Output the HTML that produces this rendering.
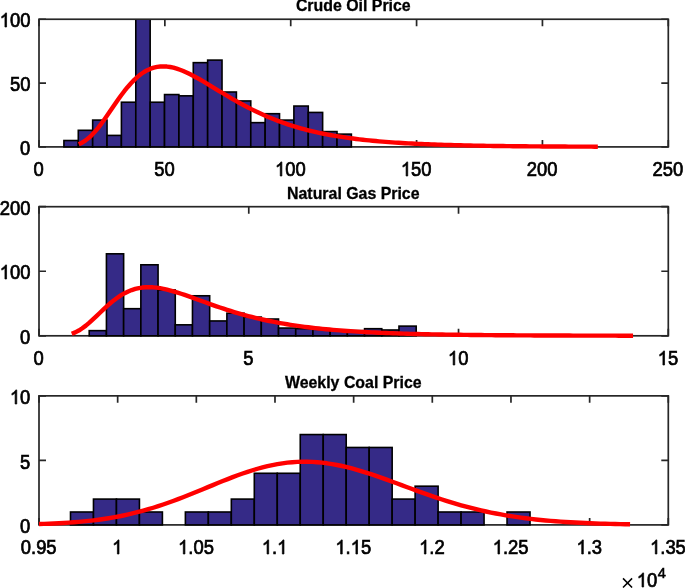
<!DOCTYPE html>
<html><head><meta charset="utf-8"><title>Histograms</title>
<style>
html,body{margin:0;padding:0;background:#fff;}
body{width:685px;height:588px;overflow:hidden;font-family:"Liberation Sans",sans-serif;}
svg{display:block;will-change:transform;}
text{font-family:"Liberation Sans",sans-serif;fill:#000;}
.t{font-size:20px;fill:#000;stroke:#000;stroke-width:0.7px;}
.ti{font-size:15.9px;font-weight:bold;stroke:#000;stroke-width:0.3px;}
</style></head>
<body>
<svg width="685" height="588" viewBox="0 0 685 588">
<rect x="0" y="0" width="685" height="588" fill="#fff"/>
<g>
<clipPath id="c1"><rect x="39" y="20.1" width="629.3" height="130.65"/></clipPath>
<g stroke="#262626" stroke-width="1.7" fill="none" stroke-linecap="butt">
<rect x="39" y="19.25" width="629.3" height="127.65"/>
<path d="M39 146.9v-7 M39 19.25v7 M164.86 146.9v-7 M164.86 19.25v7 M290.72 146.9v-7 M290.72 19.25v7 M416.58 146.9v-7 M416.58 19.25v7 M542.44 146.9v-7 M542.44 19.25v7 M668.3 146.9v-7 M668.3 19.25v7 M39 146.9h7 M668.3 146.9h-7 M39 83.08h7 M668.3 83.08h-7 M39 19.25h7 M668.3 19.25h-7"/>
</g>
<g clip-path="url(#c1)" fill="#352a87" stroke="#000" stroke-width="1.6" stroke-linejoin="miter">
<rect x="63.92" y="140.52" width="14.37" height="6.38"/>
<rect x="78.29" y="130.31" width="14.37" height="16.59"/>
<rect x="92.67" y="120.09" width="14.37" height="26.81"/>
<rect x="107.04" y="135.41" width="14.37" height="11.49"/>
<rect x="121.41" y="102.22" width="14.37" height="44.68"/>
<rect x="135.79" y="6.49" width="14.37" height="140.41"/>
<rect x="150.16" y="102.22" width="14.37" height="44.68"/>
<rect x="164.53" y="94.56" width="14.37" height="52.34"/>
<rect x="178.91" y="95.84" width="14.37" height="51.06"/>
<rect x="193.28" y="62.65" width="14.37" height="84.25"/>
<rect x="207.65" y="60.1" width="14.37" height="86.8"/>
<rect x="222.03" y="92.01" width="14.37" height="54.89"/>
<rect x="236.4" y="100.95" width="14.37" height="45.95"/>
<rect x="250.77" y="122.65" width="14.37" height="24.25"/>
<rect x="265.15" y="113.71" width="14.37" height="33.19"/>
<rect x="279.52" y="120.09" width="14.37" height="26.81"/>
<rect x="293.89" y="106.05" width="14.37" height="40.85"/>
<rect x="308.26" y="112.43" width="14.37" height="34.47"/>
<rect x="322.64" y="131.58" width="14.37" height="15.32"/>
<rect x="337.01" y="134.13" width="14.37" height="12.77"/>
</g>
<polyline points="78.77,144.21 82.04,142.66 85.3,140.62 88.57,138.08 91.83,135.03 95.09,131.51 98.36,127.58 101.62,123.31 104.89,118.77 108.15,114.07 111.42,109.29 114.68,104.51 117.95,99.82 121.21,95.28 124.47,90.97 127.74,86.94 131,83.22 134.27,79.85 137.53,76.85 140.8,74.24 144.06,72.01 147.33,70.17 150.59,68.71 153.85,67.62 157.12,66.88 160.38,66.47 163.65,66.37 166.91,66.57 170.18,67.02 173.44,67.72 176.71,68.64 179.97,69.75 183.23,71.03 186.5,72.46 189.76,74.02 193.03,75.69 196.29,77.44 199.56,79.27 202.82,81.16 206.09,83.1 209.35,85.06 212.61,87.04 215.88,89.03 219.14,91.02 222.41,92.99 225.67,94.96 228.94,96.89 232.2,98.8 235.47,100.67 238.73,102.51 241.99,104.3 245.26,106.05 248.52,107.75 251.79,109.41 255.05,111.01 258.32,112.57 261.58,114.07 264.85,115.53 268.11,116.93 271.37,118.28 274.64,119.58 277.9,120.83 281.17,122.03 284.43,123.19 287.7,124.29 290.96,125.35 294.23,126.37 297.49,127.34 300.75,128.28 304.02,129.17 307.28,130.02 310.55,130.83 313.81,131.61 317.08,132.35 320.34,133.06 323.61,133.73 326.87,134.38 330.13,134.99 333.4,135.57 336.66,136.13 339.93,136.66 343.19,137.16 346.46,137.64 349.72,138.1 352.99,138.54 356.25,138.95 359.51,139.34 362.78,139.72 366.04,140.07 369.31,140.41 372.57,140.73 375.84,141.04 379.1,141.33 382.37,141.61 385.63,141.87 388.89,142.12 392.16,142.35 395.42,142.58 398.69,142.79 401.95,143 405.22,143.19 408.48,143.37 411.75,143.55 415.01,143.71 418.27,143.87 421.54,144.02 424.8,144.16 428.07,144.3 431.33,144.42 434.6,144.54 437.86,144.66 441.13,144.77 444.39,144.87 447.65,144.97 450.92,145.07 454.18,145.16 457.45,145.24 460.71,145.32 463.98,145.4 467.24,145.47 470.51,145.54 473.77,145.61 477.03,145.67 480.3,145.73 483.56,145.78 486.83,145.84 490.09,145.89 493.36,145.94 496.62,145.98 499.89,146.03 503.15,146.07 506.41,146.11 509.68,146.15 512.94,146.18 516.21,146.21 519.47,146.25 522.74,146.28 526,146.31 529.27,146.34 532.53,146.36 535.79,146.39 539.06,146.41 542.32,146.43 545.59,146.46 548.85,146.48 552.12,146.5 555.38,146.51 558.65,146.53 561.91,146.55 565.17,146.57 568.44,146.58 571.7,146.6 574.97,146.61 578.23,146.62 581.5,146.64 584.76,146.65 588.03,146.66 591.29,146.67 594.55,146.68 597.82,146.69" fill="none" stroke="#ff0000" stroke-width="4.4" stroke-linejoin="round" stroke-linecap="butt"/>
<text class="t" transform="translate(33.51 176) scale(0.94 1)" style="font-size:19.6px;stroke-width:0.7px">0</text>
<text class="t" transform="translate(154.27 176) scale(0.94 1)" style="font-size:19.6px;stroke-width:0.7px">50</text>
<path d="M281.86 176L280.25 176L280.25 165.02Q279.67 165.62 278.73 166.21Q277.78 166.8 277.03 167.1L277.03 165.43Q278.38 164.75 279.39 163.79Q280.41 162.82 280.83 161.91L281.86 161.91Z" fill="#000" stroke="#000" stroke-width="0.7" stroke-linejoin="round"/>
<text class="t" transform="translate(285.23 176) scale(0.94 1)" style="font-size:19.6px;stroke-width:0.7px">00</text>
<path d="M407.72 176L406.11 176L406.11 165.02Q405.53 165.62 404.59 166.21Q403.64 166.8 402.89 167.1L402.89 165.43Q404.24 164.75 405.25 163.79Q406.27 162.82 406.69 161.91L407.72 161.91Z" fill="#000" stroke="#000" stroke-width="0.7" stroke-linejoin="round"/>
<text class="t" transform="translate(411.09 176) scale(0.94 1)" style="font-size:19.6px;stroke-width:0.7px">50</text>
<text class="t" transform="translate(526.76 176) scale(0.94 1)" style="font-size:19.6px;stroke-width:0.7px">200</text>
<text class="t" transform="translate(652.62 176) scale(0.94 1)" style="font-size:19.6px;stroke-width:0.7px">250</text>
<text class="t" transform="translate(20.11 155) scale(0.94 1)" style="font-size:19.6px;stroke-width:0.7px">0</text>
<text class="t" transform="translate(9.92 91) scale(0.94 1)" style="font-size:19.6px;stroke-width:0.7px">50</text>
<path d="M6.56 27L4.95 27L4.95 16.02Q4.37 16.62 3.42 17.21Q2.48 17.8 1.73 18.1L1.73 16.43Q3.08 15.75 4.09 14.79Q5.1 13.82 5.52 12.91L6.56 12.91Z" fill="#000" stroke="#000" stroke-width="0.7" stroke-linejoin="round"/>
<text class="t" transform="translate(9.92 27) scale(0.94 1)" style="font-size:19.6px;stroke-width:0.7px">00</text>
<text class="ti" x="353.3" y="11.25" text-anchor="middle">Crude Oil Price</text>
</g>
<g>
<clipPath id="c2"><rect x="39" y="207.55" width="629.3" height="132.1"/></clipPath>
<g stroke="#262626" stroke-width="1.7" fill="none" stroke-linecap="butt">
<rect x="39" y="206.7" width="629.3" height="129.1"/>
<path d="M39 335.8v-7 M39 206.7v7 M248.77 335.8v-7 M248.77 206.7v7 M458.53 335.8v-7 M458.53 206.7v7 M668.3 335.8v-7 M668.3 206.7v7 M39 335.8h7 M668.3 335.8h-7 M39 271.25h7 M668.3 271.25h-7 M39 206.7h7 M668.3 206.7h-7"/>
</g>
<g clip-path="url(#c2)" fill="#352a87" stroke="#000" stroke-width="1.6" stroke-linejoin="miter">
<rect x="89.22" y="330.64" width="17.21" height="5.16"/>
<rect x="106.43" y="253.82" width="17.21" height="81.98"/>
<rect x="123.64" y="308.69" width="17.21" height="27.11"/>
<rect x="140.85" y="264.8" width="17.21" height="71"/>
<rect x="158.06" y="289.97" width="17.21" height="45.83"/>
<rect x="175.26" y="324.83" width="17.21" height="10.97"/>
<rect x="192.47" y="295.78" width="17.21" height="40.02"/>
<rect x="209.68" y="320.95" width="17.21" height="14.85"/>
<rect x="226.89" y="313.21" width="17.21" height="22.59"/>
<rect x="244.1" y="317.08" width="17.21" height="18.72"/>
<rect x="261.31" y="319.02" width="17.21" height="16.78"/>
<rect x="278.52" y="328.05" width="17.21" height="7.75"/>
<rect x="295.73" y="328.7" width="17.21" height="7.1"/>
<rect x="312.94" y="329.35" width="17.21" height="6.45"/>
<rect x="330.15" y="329.99" width="17.21" height="5.81"/>
<rect x="347.36" y="330.64" width="17.21" height="5.16"/>
<rect x="364.57" y="328.7" width="17.21" height="7.1"/>
<rect x="381.78" y="329.99" width="17.21" height="5.81"/>
<rect x="398.98" y="326.12" width="17.21" height="9.68"/>
</g>
<polyline points="71.72,333.74 75.25,332.36 78.78,330.53 82.31,328.27 85.85,325.63 89.38,322.66 92.91,319.46 96.44,316.12 99.97,312.73 103.5,309.37 107.03,306.11 110.56,303.02 114.09,300.15 117.62,297.54 121.15,295.21 124.68,293.19 128.21,291.46 131.74,290.05 135.27,288.93 138.8,288.11 142.33,287.55 145.86,287.25 149.39,287.18 152.92,287.32 156.45,287.66 159.98,288.17 163.51,288.83 167.04,289.62 170.58,290.52 174.11,291.52 177.64,292.6 181.17,293.74 184.7,294.94 188.23,296.17 191.76,297.42 195.29,298.7 198.82,299.98 202.35,301.27 205.88,302.55 209.41,303.82 212.94,305.07 216.47,306.3 220,307.51 223.53,308.69 227.06,309.84 230.59,310.96 234.12,312.04 237.65,313.1 241.18,314.11 244.71,315.1 248.24,316.04 251.77,316.96 255.31,317.83 258.84,318.68 262.37,319.48 265.9,320.26 269.43,321 272.96,321.71 276.49,322.39 280.02,323.04 283.55,323.67 287.08,324.26 290.61,324.82 294.14,325.36 297.67,325.88 301.2,326.37 304.73,326.83 308.26,327.28 311.79,327.7 315.32,328.1 318.85,328.49 322.38,328.85 325.91,329.2 329.44,329.53 332.97,329.84 336.5,330.14 340.03,330.42 343.57,330.69 347.1,330.94 350.63,331.18 354.16,331.41 357.69,331.63 361.22,331.84 364.75,332.04 368.28,332.22 371.81,332.4 375.34,332.57 378.87,332.73 382.4,332.88 385.93,333.02 389.46,333.16 392.99,333.29 396.52,333.42 400.05,333.53 403.58,333.64 407.11,333.75 410.64,333.85 414.17,333.94 417.7,334.03 421.23,334.12 424.76,334.2 428.3,334.28 431.83,334.35 435.36,334.42 438.89,334.49 442.42,334.55 445.95,334.61 449.48,334.67 453.01,334.72 456.54,334.77 460.07,334.82 463.6,334.87 467.13,334.91 470.66,334.96 474.19,335 477.72,335.03 481.25,335.07 484.78,335.1 488.31,335.14 491.84,335.17 495.37,335.2 498.9,335.22 502.43,335.25 505.96,335.28 509.49,335.3 513.03,335.32 516.56,335.35 520.09,335.37 523.62,335.39 527.15,335.41 530.68,335.42 534.21,335.44 537.74,335.46 541.27,335.47 544.8,335.49 548.33,335.5 551.86,335.51 555.39,335.53 558.92,335.54 562.45,335.55 565.98,335.56 569.51,335.57 573.04,335.58 576.57,335.59 580.1,335.6 583.63,335.61 587.16,335.62 590.69,335.63 594.22,335.63 597.76,335.64 601.29,335.65 604.82,335.65 608.35,335.66 611.88,335.67 615.41,335.67 618.94,335.68 622.47,335.68 626,335.69 629.53,335.69 633.06,335.7" fill="none" stroke="#ff0000" stroke-width="4.4" stroke-linejoin="round" stroke-linecap="butt"/>
<text class="t" transform="translate(33.51 365) scale(0.94 1)" style="font-size:19.6px;stroke-width:0.7px">0</text>
<text class="t" transform="translate(243.27 365) scale(0.94 1)" style="font-size:19.6px;stroke-width:0.7px">5</text>
<path d="M454.77 365L453.16 365L453.16 354.02Q452.58 354.62 451.64 355.21Q450.69 355.8 449.94 356.1L449.94 354.43Q451.29 353.75 452.3 352.79Q453.31 351.82 453.73 350.91L454.77 350.91Z" fill="#000" stroke="#000" stroke-width="0.7" stroke-linejoin="round"/>
<text class="t" transform="translate(458.13 365) scale(0.94 1)" style="font-size:19.6px;stroke-width:0.7px">0</text>
<path d="M664.54 365L662.93 365L662.93 354.02Q662.35 354.62 661.4 355.21Q660.46 355.8 659.71 356.1L659.71 354.43Q661.06 353.75 662.07 352.79Q663.08 351.82 663.5 350.91L664.54 350.91Z" fill="#000" stroke="#000" stroke-width="0.7" stroke-linejoin="round"/>
<text class="t" transform="translate(667.9 365) scale(0.94 1)" style="font-size:19.6px;stroke-width:0.7px">5</text>
<text class="t" transform="translate(20.11 344) scale(0.94 1)" style="font-size:19.6px;stroke-width:0.7px">0</text>
<path d="M6.56 279L4.95 279L4.95 268.02Q4.37 268.62 3.42 269.21Q2.48 269.8 1.73 270.1L1.73 268.43Q3.08 267.75 4.09 266.79Q5.1 265.82 5.52 264.91L6.56 264.91Z" fill="#000" stroke="#000" stroke-width="0.7" stroke-linejoin="round"/>
<text class="t" transform="translate(9.92 279) scale(0.94 1)" style="font-size:19.6px;stroke-width:0.7px">00</text>
<text class="t" transform="translate(-0.27 215) scale(0.94 1)" style="font-size:19.6px;stroke-width:0.7px">200</text>
<text class="ti" x="353.3" y="199.2" text-anchor="middle">Natural Gas Price</text>
</g>
<g>
<clipPath id="c3"><rect x="39" y="396.7" width="629.3" height="132.05"/></clipPath>
<g stroke="#262626" stroke-width="1.7" fill="none" stroke-linecap="butt">
<rect x="39" y="395.85" width="629.3" height="129.05"/>
<path d="M39 524.9v-7 M39 395.85v7 M117.66 524.9v-7 M117.66 395.85v7 M196.33 524.9v-7 M196.33 395.85v7 M274.99 524.9v-7 M274.99 395.85v7 M353.65 524.9v-7 M353.65 395.85v7 M432.31 524.9v-7 M432.31 395.85v7 M510.97 524.9v-7 M510.97 395.85v7 M589.64 524.9v-7 M589.64 395.85v7 M668.3 524.9v-7 M668.3 395.85v7 M39 524.9h7 M668.3 524.9h-7 M39 460.38h7 M668.3 460.38h-7 M39 395.85h7 M668.3 395.85h-7"/>
</g>
<g clip-path="url(#c3)" fill="#352a87" stroke="#000" stroke-width="1.6" stroke-linejoin="miter">
<rect x="70.5" y="512" width="22.98" height="12.9"/>
<rect x="93.47" y="499.09" width="22.98" height="25.81"/>
<rect x="116.45" y="499.09" width="22.98" height="25.81"/>
<rect x="139.42" y="512" width="22.98" height="12.9"/>
<rect x="185.38" y="512" width="22.98" height="12.9"/>
<rect x="208.35" y="512" width="22.98" height="12.9"/>
<rect x="231.33" y="499.09" width="22.98" height="25.81"/>
<rect x="254.3" y="473.28" width="22.98" height="51.62"/>
<rect x="277.28" y="473.28" width="22.98" height="51.62"/>
<rect x="300.25" y="434.56" width="22.98" height="90.33"/>
<rect x="323.23" y="434.56" width="22.98" height="90.33"/>
<rect x="346.21" y="447.47" width="22.98" height="77.43"/>
<rect x="369.18" y="447.47" width="22.98" height="77.43"/>
<rect x="392.16" y="499.09" width="22.98" height="25.81"/>
<rect x="415.13" y="486.19" width="22.98" height="38.71"/>
<rect x="438.11" y="512" width="22.98" height="12.9"/>
<rect x="461.08" y="512" width="22.98" height="12.9"/>
<rect x="507.04" y="512" width="22.98" height="12.9"/>
</g>
<polyline points="39,524.05 43.97,523.89 48.93,523.71 53.9,523.5 58.87,523.25 63.83,522.97 68.8,522.65 73.77,522.29 78.74,521.88 83.7,521.42 88.67,520.91 93.64,520.34 98.6,519.7 103.57,519 108.54,518.23 113.5,517.39 118.47,516.47 123.44,515.47 128.41,514.39 133.37,513.23 138.34,511.98 143.31,510.65 148.27,509.24 153.24,507.74 158.21,506.17 163.17,504.51 168.14,502.79 173.11,501 178.08,499.14 183.04,497.23 188.01,495.27 192.98,493.28 197.94,491.25 202.91,489.2 207.88,487.15 212.84,485.1 217.81,483.06 222.78,481.05 227.75,479.08 232.71,477.16 237.68,475.3 242.65,473.53 247.61,471.83 252.58,470.24 257.55,468.76 262.51,467.4 267.48,466.16 272.45,465.07 277.41,464.12 282.38,463.32 287.35,462.67 292.32,462.19 297.28,461.87 302.25,461.7 307.22,461.71 312.18,461.87 317.15,462.19 322.12,462.67 327.08,463.3 332.05,464.07 337.02,464.98 341.99,466.01 346.95,467.17 351.92,468.44 356.89,469.82 361.85,471.28 366.82,472.83 371.79,474.46 376.75,476.14 381.72,477.87 386.69,479.65 391.66,481.45 396.62,483.28 401.59,485.11 406.56,486.95 411.52,488.78 416.49,490.6 421.46,492.39 426.42,494.16 431.39,495.89 436.36,497.58 441.32,499.22 446.29,500.82 451.26,502.36 456.23,503.84 461.19,505.27 466.16,506.64 471.13,507.94 476.09,509.18 481.06,510.36 486.03,511.48 490.99,512.53 495.96,513.53 500.93,514.46 505.9,515.33 510.86,516.15 515.83,516.91 520.8,517.62 525.76,518.28 530.73,518.89 535.7,519.45 540.66,519.97 545.63,520.45 550.6,520.88 555.57,521.28 560.53,521.65 565.5,521.99 570.47,522.29 575.43,522.57 580.4,522.82 585.37,523.04 590.33,523.25 595.3,523.43 600.27,523.6 605.24,523.75 610.2,523.88 615.17,524 620.14,524.11 625.1,524.2 630.07,524.29" fill="none" stroke="#ff0000" stroke-width="4.4" stroke-linejoin="round" stroke-linecap="butt"/>
<text class="t" transform="translate(20.77 554) scale(0.94 1)" style="font-size:19.6px;stroke-width:0.7px">0.95</text>
<path d="M119 554L117.38 554L117.38 543.02Q116.8 543.62 115.86 544.21Q114.91 544.8 114.16 545.1L114.16 543.43Q115.51 542.75 116.53 541.79Q117.54 540.82 117.96 539.91L119 539.91Z" fill="#000" stroke="#000" stroke-width="0.7" stroke-linejoin="round"/>
<path d="M184.92 554L183.31 554L183.31 543.02Q182.73 543.62 181.78 544.21Q180.84 544.8 180.09 545.1L180.09 543.43Q181.44 542.75 182.45 541.79Q183.46 540.82 183.88 539.91L184.92 539.91Z" fill="#000" stroke="#000" stroke-width="0.7" stroke-linejoin="round"/>
<text class="t" transform="translate(188.28 554) scale(0.94 1)" style="font-size:19.6px;stroke-width:0.7px">.05</text>
<path d="M268.68 554L267.07 554L267.07 543.02Q266.49 543.62 265.54 544.21Q264.6 544.8 263.85 545.1L263.85 543.43Q265.2 542.75 266.21 541.79Q267.22 540.82 267.64 539.91L268.68 539.91Z" fill="#000" stroke="#000" stroke-width="0.7" stroke-linejoin="round"/>
<text class="t" transform="translate(272.04 554) scale(0.94 1)" style="font-size:19.6px;stroke-width:0.7px">.</text>
<path d="M283.96 554L282.35 554L282.35 543.02Q281.77 543.62 280.83 544.21Q279.88 544.8 279.13 545.1L279.13 543.43Q280.48 542.75 281.49 541.79Q282.5 540.82 282.92 539.91L283.96 539.91Z" fill="#000" stroke="#000" stroke-width="0.7" stroke-linejoin="round"/>
<path d="M342.25 554L340.64 554L340.64 543.02Q340.05 543.62 339.11 544.21Q338.17 544.8 337.41 545.1L337.41 543.43Q338.77 542.75 339.78 541.79Q340.79 540.82 341.21 539.91L342.25 539.91Z" fill="#000" stroke="#000" stroke-width="0.7" stroke-linejoin="round"/>
<text class="t" transform="translate(345.61 554) scale(0.94 1)" style="font-size:19.6px;stroke-width:0.7px">.</text>
<path d="M357.53 554L355.92 554L355.92 543.02Q355.34 543.62 354.39 544.21Q353.45 544.8 352.7 545.1L352.7 543.43Q354.05 542.75 355.06 541.79Q356.07 540.82 356.49 539.91L357.53 539.91Z" fill="#000" stroke="#000" stroke-width="0.7" stroke-linejoin="round"/>
<text class="t" transform="translate(360.89 554) scale(0.94 1)" style="font-size:19.6px;stroke-width:0.7px">5</text>
<path d="M426 554L424.39 554L424.39 543.02Q423.81 543.62 422.87 544.21Q421.92 544.8 421.17 545.1L421.17 543.43Q422.52 542.75 423.53 541.79Q424.54 540.82 424.97 539.91L426 539.91Z" fill="#000" stroke="#000" stroke-width="0.7" stroke-linejoin="round"/>
<text class="t" transform="translate(429.37 554) scale(0.94 1)" style="font-size:19.6px;stroke-width:0.7px">.2</text>
<path d="M499.57 554L497.96 554L497.96 543.02Q497.38 543.62 496.43 544.21Q495.49 544.8 494.74 545.1L494.74 543.43Q496.09 542.75 497.1 541.79Q498.11 540.82 498.53 539.91L499.57 539.91Z" fill="#000" stroke="#000" stroke-width="0.7" stroke-linejoin="round"/>
<text class="t" transform="translate(502.93 554) scale(0.94 1)" style="font-size:19.6px;stroke-width:0.7px">.25</text>
<path d="M583.33 554L581.72 554L581.72 543.02Q581.14 543.62 580.19 544.21Q579.25 544.8 578.5 545.1L578.5 543.43Q579.85 542.75 580.86 541.79Q581.87 540.82 582.29 539.91L583.33 539.91Z" fill="#000" stroke="#000" stroke-width="0.7" stroke-linejoin="round"/>
<text class="t" transform="translate(586.69 554) scale(0.94 1)" style="font-size:19.6px;stroke-width:0.7px">.3</text>
<path d="M656.9 554L655.29 554L655.29 543.02Q654.7 543.62 653.76 544.21Q652.82 544.8 652.06 545.1L652.06 543.43Q653.42 542.75 654.43 541.79Q655.44 540.82 655.86 539.91L656.9 539.91Z" fill="#000" stroke="#000" stroke-width="0.7" stroke-linejoin="round"/>
<text class="t" transform="translate(660.26 554) scale(0.94 1)" style="font-size:19.6px;stroke-width:0.7px">.35</text>
<text class="t" transform="translate(20.11 533) scale(0.94 1)" style="font-size:19.6px;stroke-width:0.7px">0</text>
<text class="t" transform="translate(20.11 469) scale(0.94 1)" style="font-size:19.6px;stroke-width:0.7px">5</text>
<path d="M16.75 404L15.14 404L15.14 393.02Q14.56 393.62 13.61 394.21Q12.67 394.8 11.92 395.1L11.92 393.43Q13.27 392.75 14.28 391.79Q15.29 390.82 15.71 389.91L16.75 389.91Z" fill="#000" stroke="#000" stroke-width="0.7" stroke-linejoin="round"/>
<text class="t" transform="translate(20.11 404) scale(0.94 1)" style="font-size:19.6px;stroke-width:0.7px">0</text>
<text class="ti" x="353.3" y="388.35" text-anchor="middle">Weekly Coal Price</text>
</g>
<path d="M623 578.4L632.1 587.5M632.1 578.4L623 587.5" stroke="#000" stroke-width="1.5" fill="none"/>
<path d="M643.63 587L642.02 587L642.02 576.02Q641.44 576.62 640.49 577.21Q639.55 577.8 638.8 578.1L638.8 576.43Q640.15 575.75 641.16 574.79Q642.17 573.82 642.59 572.91L643.63 572.91Z" fill="#000" stroke="#000" stroke-width="0.7" stroke-linejoin="round"/>
<text class="t" transform="translate(646.99 587) scale(0.94 1)" style="font-size:19.6px;stroke-width:0.7px">0</text>
<text transform="translate(657.8 578) scale(0.95 1)" style="font-size:15.3px;fill:#000;stroke:#000;stroke-width:0.6px">4</text>
</svg>
</body></html>
